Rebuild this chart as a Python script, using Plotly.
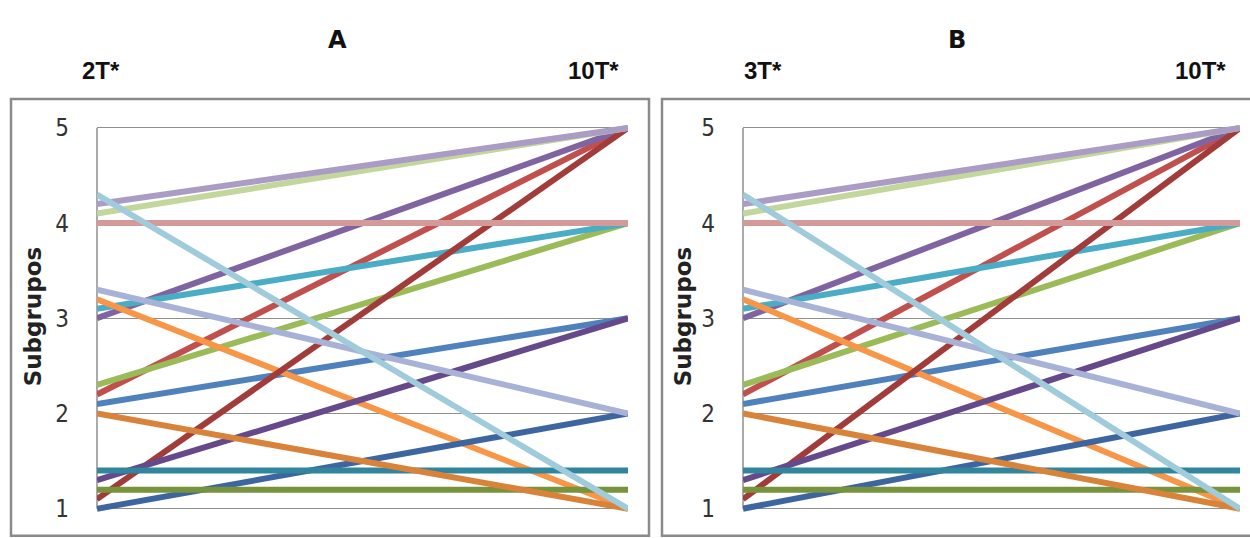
import plotly.graph_objects as go

W, H = 1250, 538

# ---- data -------------------------------------------------------------
cats_A = ["2T*", "10T*"]
cats_B = ["3T*", "10T*"]
y_ticks = [1, 2, 3, 4, 5]

# series in drawing order (later ones on top)
series_colors = [
    "#4f81bd", "#c0504d", "#9bbb59", "#8064a2", "#4bacc6", "#f79646",
    "#3d66a0", "#a23c3a", "#77933c", "#65498a", "#31859c", "#d9833a",
    "#a7b2d6", "#d49a99", "#c3d69b", "#aa9cc5", "#9fcbdb",
]
start_A = [2.1, 2.2, 2.3, 3.0, 3.1, 3.2, 1.0, 1.1, 1.2, 1.3, 1.4, 2.0, 3.3, 4.0, 4.1, 4.2, 4.3]
end_A   = [3.0, 5.0, 4.0, 5.0, 4.0, 1.0, 2.0, 5.0, 1.2, 3.0, 1.4, 1.0, 2.0, 4.0, 5.0, 5.0, 1.0]
start_B = [2.1, 2.2, 2.3, 3.0, 3.1, 3.2, 1.0, 1.1, 1.2, 1.3, 1.4, 2.0, 3.3, 4.0, 4.1, 4.2, 4.3]
end_B   = [3.0, 5.0, 4.0, 5.0, 4.0, 1.0, 2.0, 5.0, 1.2, 3.0, 1.4, 1.0, 2.0, 4.0, 5.0, 5.0, 1.0]

# ---- figure -----------------------------------------------------------
fig = go.Figure()
for c, s, e in zip(series_colors, start_A, end_A):
    fig.add_trace(go.Scatter(x=cats_A, y=[s, e], mode="lines",
                             line=dict(color=c, width=6),
                             xaxis="x", yaxis="y", showlegend=False, hoverinfo="skip"))
for c, s, e in zip(series_colors, start_B, end_B):
    fig.add_trace(go.Scatter(x=cats_B, y=[s, e], mode="lines",
                             line=dict(color=c, width=6),
                             xaxis="x2", yaxis="y2", showlegend=False, hoverinfo="skip"))

def px_x(p):
    return p / W

def px_y(p):
    return 1 - p / H

y_range = [0.95, 5.05]
y_dom = [px_y(521.9), px_y(118.1)]
grid_col = "#8f8f8f"
tick_font = dict(family="Liberation Sans Narrow, DejaVu Sans Condensed, Liberation Sans",
                 size=24, color="#333333")

xax = dict(type="category", range=[0, 1], showgrid=False, zeroline=False,
           showticklabels=False, ticks="", showline=False, fixedrange=True)
yax = dict(range=y_range, domain=y_dom, tickvals=y_ticks, showgrid=True,
           gridcolor=grid_col, gridwidth=1.3, zeroline=False, showline=False,
           ticks="", tickfont=tick_font, ticklabelstandoff=27, fixedrange=True)

fig.update_layout(
    width=W, height=H,
    margin=dict(l=0, r=0, t=0, b=0),
    paper_bgcolor="white", plot_bgcolor="white",
    xaxis=dict(xax, domain=[px_x(97), px_x(628)], anchor="y"),
    yaxis=dict(yax, anchor="x"),
    xaxis2=dict(xax, domain=[px_x(743), px_x(1240)], anchor="y2"),
    yaxis2=dict(yax, anchor="x2"),
)

shapes = []
# panel boxes
box_col = "#8a8a8a"
shapes.append(dict(type="rect", xref="paper", yref="paper",
                   x0=px_x(11), x1=px_x(649), y0=px_y(545), y1=px_y(93),
                   line=dict(color=box_col, width=2.5), layer="below"))
shapes.append(dict(type="rect", xref="paper", yref="paper",
                   x0=px_x(662), x1=px_x(1260), y0=px_y(545), y1=px_y(93),
                   line=dict(color=box_col, width=2.5), layer="below"))
# vertical axis lines
for xr, yr in (("x domain", "y"), ("x2 domain", "y2")):
    shapes.append(dict(type="line", xref=xr, yref=yr, x0=0, x1=0, y0=1, y1=5,
                       line=dict(color=grid_col, width=1.5), layer="below"))
fig.update_layout(shapes=shapes)

ann = []
title_font = dict(family="DejaVu Sans", size=24, color="#111111", weight="bold")
time_font = dict(family="Liberation Sans, Arial", size=24, color="#111111", weight="bold")
for txt, x, y, f in [
    ("A", 338, 32, title_font), ("B", 957, 32, title_font),
    ("2T*", 101, 64, time_font), ("10T*", 593, 64, time_font),
    ("3T*", 763, 64, time_font), ("10T*", 1200, 64, time_font),
]:
    ann.append(dict(text=txt, xref="paper", yref="paper", x=px_x(x), y=px_y(y),
                    xanchor="center", yanchor="middle", showarrow=False, font=f))
lab_font = dict(family="DejaVu Sans", size=23, color="#222222", weight="bold")
for x in (33, 683):
    ann.append(dict(text="Subgrupos", xref="paper", yref="paper", x=px_x(x), y=px_y(318),
                    xanchor="center", yanchor="middle", showarrow=False,
                    textangle=-90, font=lab_font))
fig.update_layout(annotations=ann)

fig.write_html("out.html")
